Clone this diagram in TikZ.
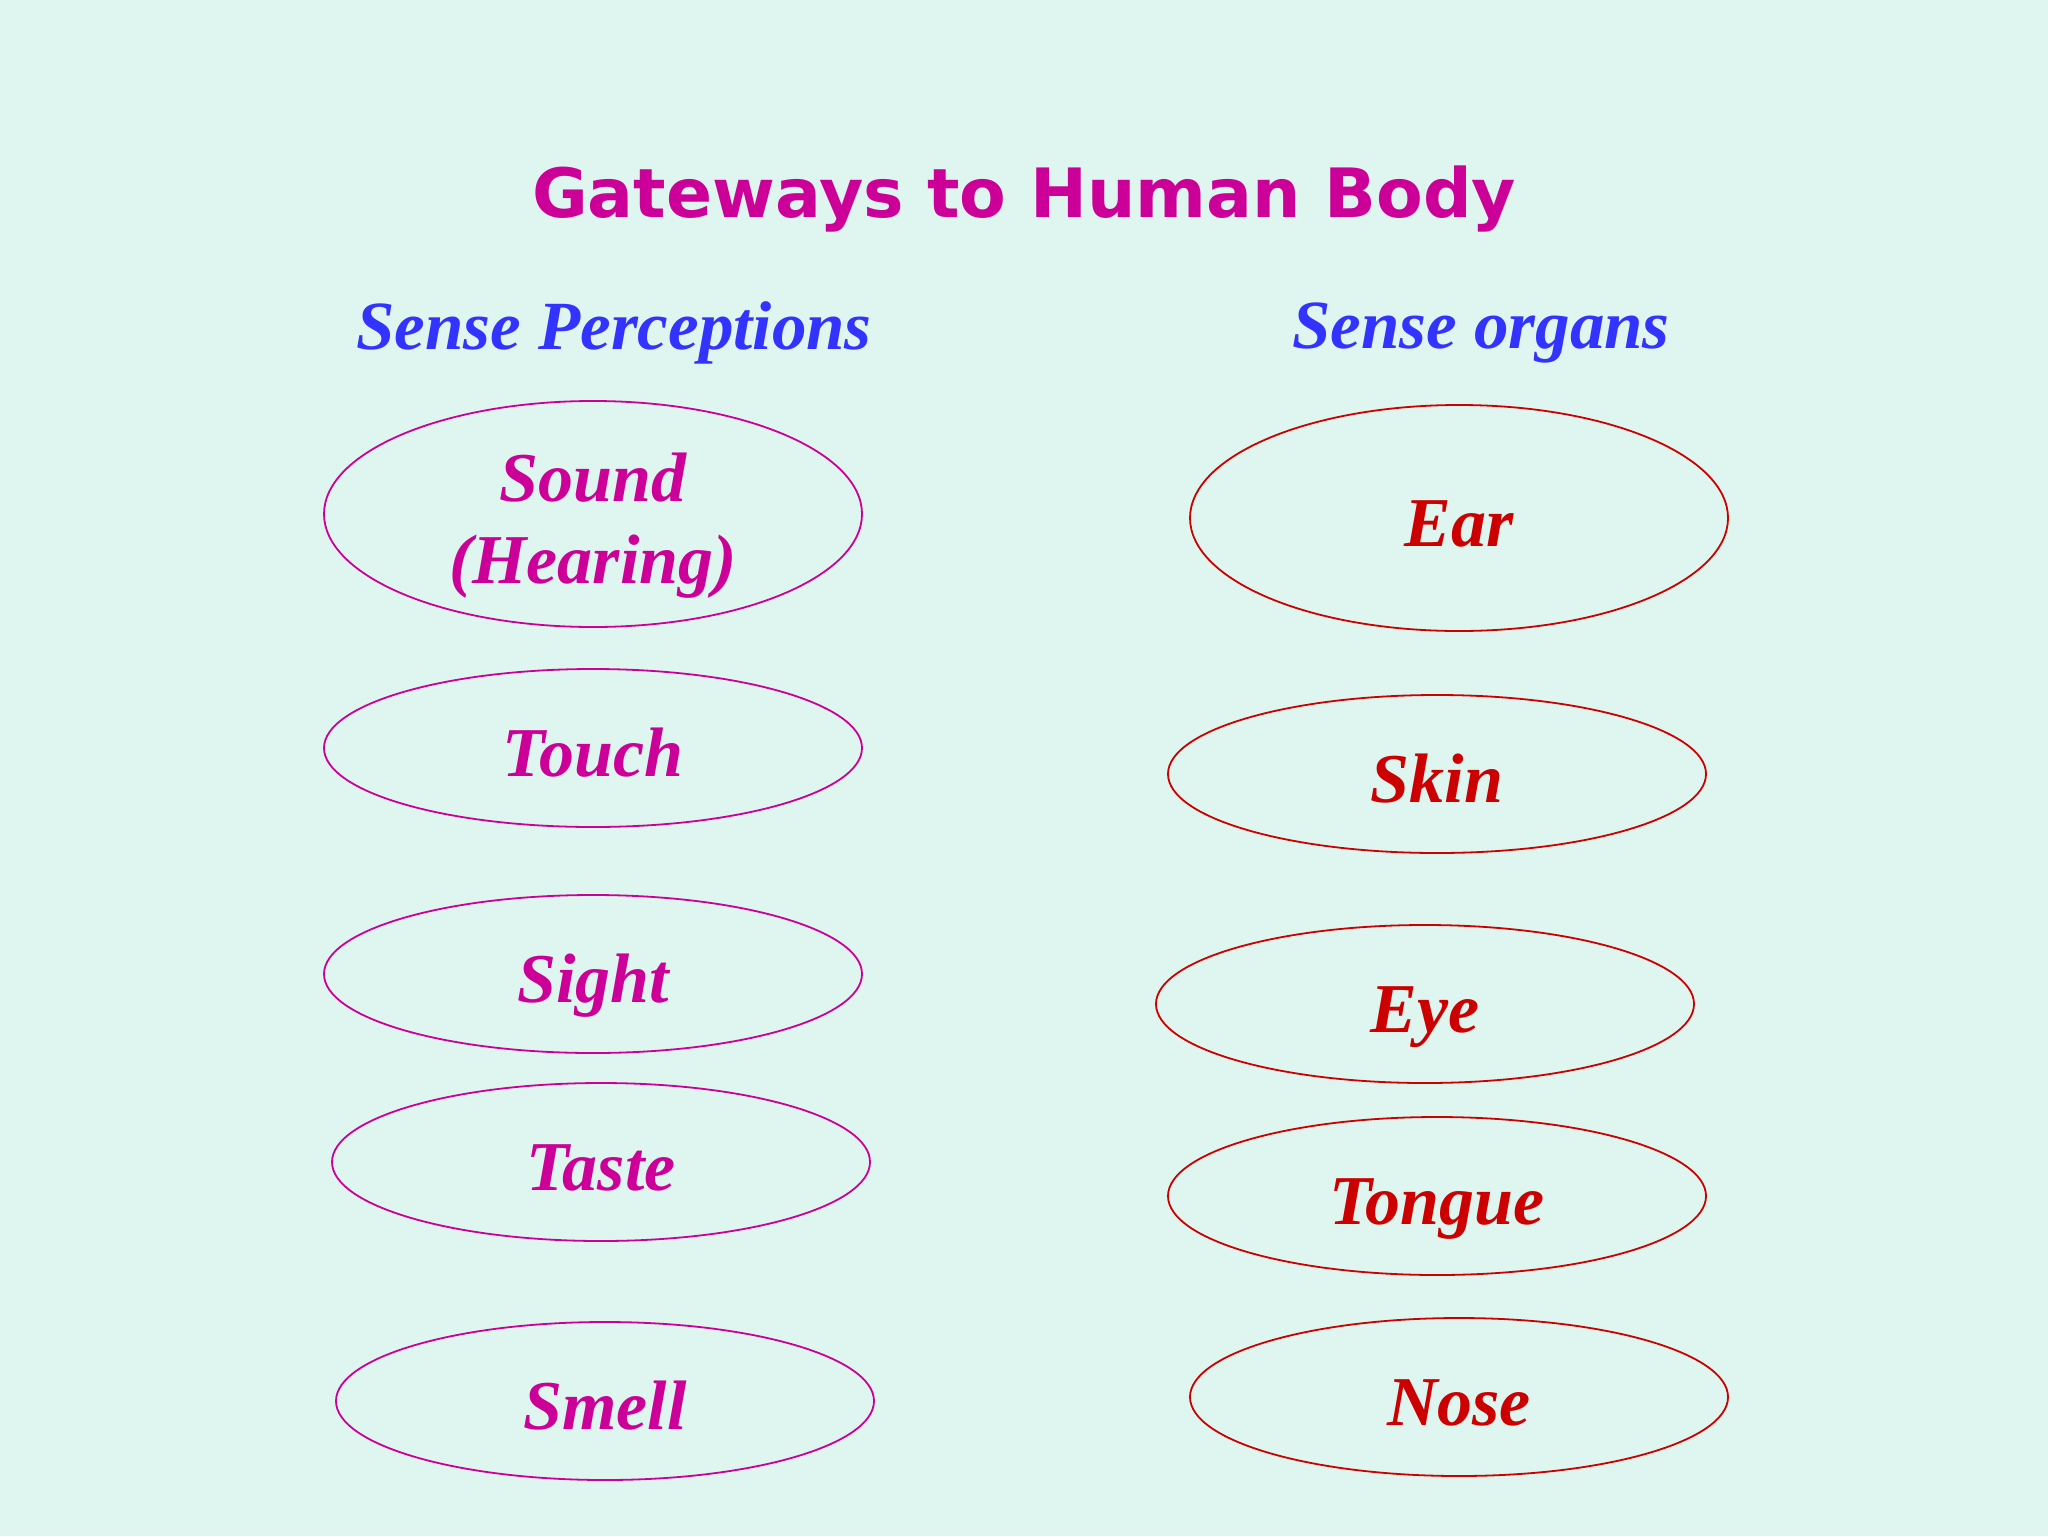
\documentclass[tikz,border=0pt]{standalone}
\usepackage{fontspec}
\setmainfont{Liberation Serif}
\newfontfamily\titlefont{DejaVu Sans}
\usetikzlibrary{shapes.geometric}
\definecolor{bgmint}{HTML}{DFF5EF}
\definecolor{magtext}{HTML}{CC0099}
\definecolor{redtext}{HTML}{CC0000}
\definecolor{headblue}{HTML}{3333FF}
\tikzset{
  ovalfont/.style={font=\fontsize{35}{41}\selectfont\bfseries\itshape},
  oval/.style={ellipse, draw, line width=0.9pt, inner sep=0pt, minimum width=269pt, align=center,
    ovalfont, text height=28pt, text depth=0pt},
  bigoval/.style={oval, minimum height=113pt},
  smalloval/.style={oval, minimum height=79pt},
  percept/.style={draw=magtext, text=magtext},
  organ/.style={draw=redtext, text=redtext},
  heading/.style={text=headblue, font=\fontsize{34.5}{40}\selectfont\bfseries\itshape},
  titletext/.style={text=magtext, font=\titlefont\fontsize{34}{40}\selectfont\bfseries}
}
\begin{document}
\begin{tikzpicture}[x=0.5pt,y=-0.5pt]
\fill[bgmint] (0,0) rectangle (2048,1536);
\useasboundingbox (0,0) rectangle (2048,1536);
\node[titletext] (title) at (1024,199) {Gateways to Human Body};
\node[heading] (hl) at (614,333) {Sense Perceptions};
\node[heading] (hr) at (1481,333) {Sense organs};
% left column
\node[bigoval, percept] (sound) at (593,514) {};
\node[ovalfont, text=magtext, align=center, inner sep=0pt, yshift=-6pt] (soundtext) at (sound.center) {Sound\\(Hearing)};
\node[smalloval, percept] (touch) at (593,748) {Touch};
\node[smalloval, percept] (sight) at (593,974) {Sight};
\node[smalloval, percept] (taste) at (601,1162) {Taste};
\node[smalloval, percept] (smell) at (605,1401) {Smell};
% right column
\node[bigoval, organ] (ear) at (1459,518) {Ear};
\node[smalloval, organ] (skin) at (1437,774) {Skin};
\node[smalloval, organ] (eye) at (1425,1004) {Eye};
\node[smalloval, organ] (tongue) at (1437,1196) {Tongue};
\node[smalloval, organ] (nose) at (1459,1397) {Nose};
\end{tikzpicture}
\end{document}
